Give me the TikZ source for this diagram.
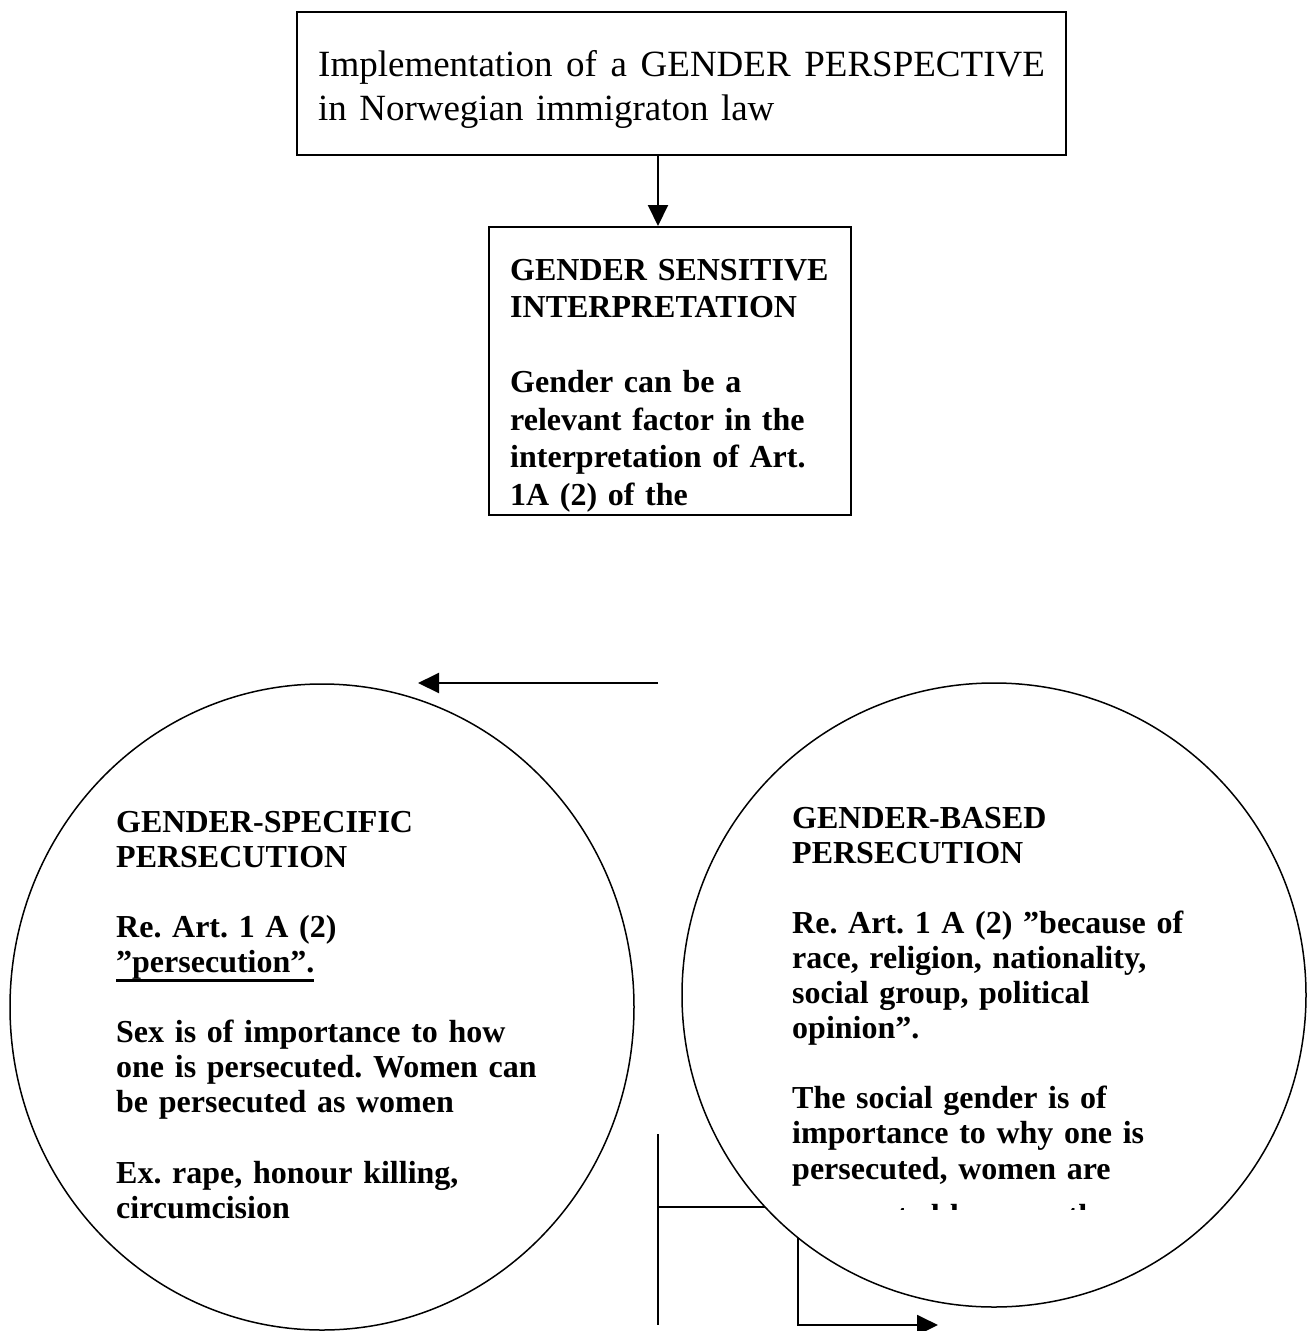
\documentclass[tikz,border=0pt]{standalone}
\usepackage{fontspec}
\setmainfont{Liberation Serif}
\usetikzlibrary{arrows.meta,shapes.geometric}
\frenchspacing

\newcommand\undl[1]{\leavevmode\setbox0\hbox{#1}\rlap{\rule[-9.5pt]{\wd0}{3pt}}\box0}

\begin{document}
\begin{tikzpicture}[x=1pt,y=-1pt,
    frame/.style={draw, line width=2pt, inner sep=0pt},
    oval/.style={draw, ellipse, line width=1.5pt, inner sep=0pt},
    ttxt/.style={inner sep=0pt, anchor=base west, text width=760pt, align=left,
                 font=\fontsize{37}{44}\selectfont},
    btxt/.style={inner sep=0pt, anchor=base west, text width=345pt, align=left,
                 font=\fontsize{32}{37.5}\selectfont\bfseries},
    ctxt/.style={inner sep=0pt, anchor=base west, text width=500pt, align=left,
                 font=\fontsize{32}{35.1}\selectfont\bfseries},
    ln/.style={line width=2pt},
    arr/.style={ln, -{Triangle[length=21pt,width=20pt]}}]
    \useasboundingbox (0,0) rectangle (1308,1331);

    % boxes
    \node[frame, minimum width=769pt, minimum height=143pt] (top) at (681.5,83.5) {};
    \node[ttxt] (toptxt) at (318,76)
      {\makebox[728pt][l]{Implementation\ \hfil of\ \hfil a\ \hfil GENDER\ \hfil PERSPECTIVE}\\in Norwegian immigraton law};
    \node[frame, minimum width=362pt, minimum height=288pt] (interp) at (670,371) {};
    \node[btxt] (interptxt) at (510,280)
      {GENDER SENSITIVE\\INTERPRETATION\\[37.5pt]Gender can be a\\relevant factor in the\\interpretation of Art.\\1A (2) of the};

    \coordinate (col) at (658,0);
    \draw[arr] (top.south -| col) -- (interp.north -| col);

    % arrow over the left circle
    \coordinate (la) at (658,683);
    \coordinate (lb) at (418,683);
    \draw[arr] (la) -- (lb);

    % left circle
    \node[oval, minimum width=624pt, minimum height=646pt] (spec) at (322,1007) {};
    \node[ctxt] (spectxt) at (116,832)
      {GENDER-SPECIFIC\\PERSECUTION\\[35.1pt]Re. Art. 1 A (2)\\\undl{”persecution”.}\\[35.1pt]Sex is of importance to how\\one is persecuted. Women can\\be persecuted as women\\[35.1pt]Ex. rape, honour killing,\\circumcision};

    % lines under the right circle
    \coordinate (vt) at (658,1134);
    \coordinate (vb) at (658,1325);
    \coordinate (hj) at (658,1207);
    \coordinate (dn) at (798,1325);
    \coordinate (fe) at (938,1325);
    \draw[ln] (vt) -- (vb);
    \draw[arr] (hj) -| (dn) -- (fe);

    % right circle
    \node[oval, fill=white, minimum width=624pt, minimum height=624pt] (based) at (994,995) {};
    \begin{scope}
      \clip (680,700) rectangle (1308,1209);
      \node[ctxt] (basedtxt) at (792,828)
        {GENDER-BASED\\PERSECUTION\\[35.1pt]Re. Art. 1 A (2) ”because of\\race, religion, nationality,\\social group, political\\opinion”.\\[35.1pt]The social gender is of\\importance to why one is\\persecuted, women are\\[12pt]persecuted because they are};
    \end{scope}
  \end{tikzpicture}
\end{document}
